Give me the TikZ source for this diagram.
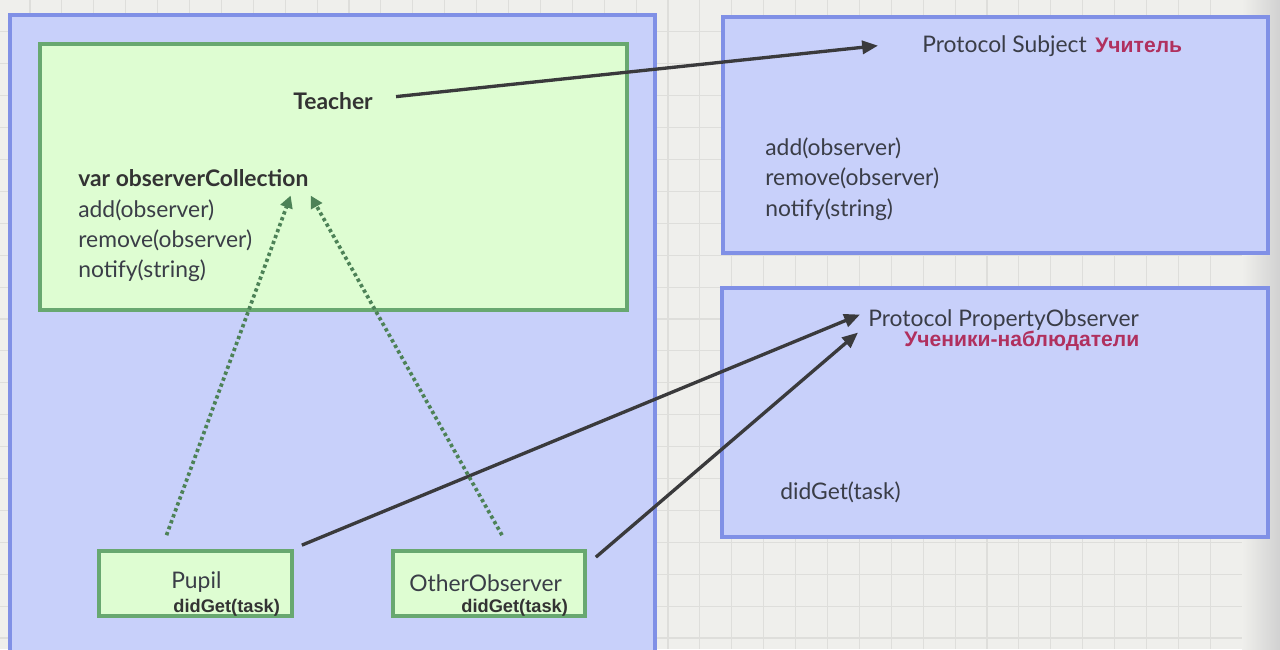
\documentclass[tikz,border=0pt]{standalone}
\usepackage{fontspec}
\setmainfont{Lato}
\newfontfamily\arialfont{Liberation Sans}
\usetikzlibrary{arrows.meta,calc,fit}

\definecolor{paper}{HTML}{EFEFEC}
\definecolor{gridline}{HTML}{DEDEDB}
\definecolor{panelblue}{HTML}{C8D0FA}
\definecolor{paneledge}{HTML}{8090E6}
\definecolor{classgreen}{HTML}{DEFDD2}
\definecolor{classedge}{HTML}{68A870}
\definecolor{ink}{HTML}{3A3D47}
\definecolor{rusred}{HTML}{B0305E}
\definecolor{linkgreen}{HTML}{4D8257}
\definecolor{linkgray}{HTML}{3A3A3C}

\tikzset{
  panel/.style={draw=paneledge, fill=panelblue, line width=2.1pt, inner sep=0pt},
  classbox/.style={draw=classedge, fill=classgreen, line width=2.1pt, inner sep=0pt},
  txt/.style={anchor=base west, inner sep=0pt, text=ink, font=\fontsize{13}{15}\selectfont},
  boldtxt/.style={txt, text=black!80, font=\fontsize{13}{15}\selectfont\bfseries},
  rustxt/.style={anchor=base west, inner sep=0pt, text=rusred, font=\arialfont\fontsize{12}{14}\selectfont\bfseries},
  smallbold/.style={anchor=base west, inner sep=0pt, text=black!80, font=\arialfont\fontsize{10.4}{12}\selectfont\bfseries},
  solidlink/.style={draw=linkgray, line width=1.9pt, -{Triangle[length=9pt,width=7.5pt]}},
  dotlink/.style={draw=linkgreen, line width=2.1pt, dash pattern=on 1.9pt off 1.7pt, -{Triangle[length=7pt,width=7pt]}}
}

\begin{document}
\begin{tikzpicture}[x={(0.02cm,0)}, y={(0,-0.02cm)}, line cap=butt]
  \useasboundingbox (0,0) rectangle (1280,649);
  \clip (0,0) rectangle (1280,649);
  % ---------- paper with grid ----------
  \fill[paper] (0,0) rectangle (1280,649);
  \foreach \i in {0,...,38} {\draw[gridline, line width=0.6pt] ({30+31.9*\i},0) -- ({30+31.9*\i},649);}
  \foreach \j in {1,...,20} {\draw[gridline, line width=0.6pt] (0,{31.9*\j}) -- (1245,{31.9*\j});}
  \shade[left color=paper, right color=black!18] (1242,0) rectangle (1280,649);
  % ---------- panels ----------
  \node[panel, fit={(10,15) (655,700)}] (leftpanel) {};
  \node[panel, fit={(723,17) (1268,253)}] (subjectbox) {};
  \node[panel, fit={(722,288) (1268,537)}] (observerbox) {};
  % ---------- Teacher class ----------
  \node[classbox, fit={(40,44) (627,310)}] (teacherbox) {};
  \node[boldtxt] (teacher) at (293,109) {Teacher};
  \node[boldtxt] (collection) at (78,186) {var observerCollection};
  \node[txt] (tadd) at (78,217) {add(observer)};
  \node[txt] (tremove) at (78,247) {remove(observer)};
  \node[txt] (tnotify) at (78,277) {notify(string)};
  % ---------- protocol Subject ----------
  \node[txt] (subject) at (922,52) {Protocol Subject};
  \node[rustxt] (subjectru) at (1095,52) {Учитель};
  \node[txt] (sadd) at (765,155) {add(observer)};
  \node[txt] (sremove) at (765,185) {remove(observer)};
  \node[txt] (snotify) at (765,216) {notify(string)};
  % ---------- protocol PropertyObserver ----------
  \node[txt] (prop) at (868,326) {Protocol PropertyObserver};
  \node[rustxt] (propru) at (904,346) {Ученики-наблюдатели};
  \node[txt] (pdidget) at (780,499) {didGet(task)};
  % ---------- observers ----------
  \node[classbox, fit={(99,551) (292,616)}] (pupilbox) {};
  \node[txt] (pupil) at (171,588) {Pupil};
  \node[smallbold] (pupildid) at (173,612) {didGet(task)};
  \node[classbox, fit={(393,551) (585,616)}] (otherbox) {};
  \node[txt] (other) at (409,591) {OtherObserver};
  \node[smallbold] (otherdid) at (461,612) {didGet(task)};
  % ---------- conformance arrows ----------
  \draw[solidlink] ($(teacher.east)+(23,-4)$) -- ($(subject.west)+(-44,0)$);
  \draw[solidlink] ($(pupilbox.north east)+(8,-4)$) -- ($(prop.west)+(-8,-5)$);
  \draw[solidlink] ($(otherbox.north east)+(9,8)$) -- ($(prop.west)+(-10,13)$);
  % ---------- registration arrows ----------
  \draw[dotlink] ($(pupilbox.north)+(-29,-14)$) -- ($(collection.south east)+(-18,9)$);
  \draw[dotlink] ($(otherbox.north)+(13,-14)$) -- ($(collection.south east)+(2,9)$);
\end{tikzpicture}
\end{document}
